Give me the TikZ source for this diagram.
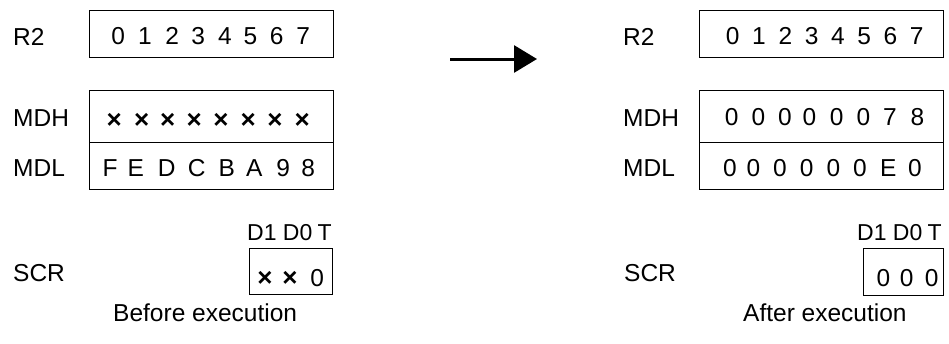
\documentclass[tikz,border=0pt]{standalone}
\usepackage{fontspec}
\setmainfont{Liberation Sans}
\usetikzlibrary{arrows.meta}
\begin{document}
\begin{tikzpicture}[x=1pt,y=-1pt,
  txt/.style={inner sep=0pt, font=\fontsize{24.5}{29}\selectfont},
  lbl/.style={txt, anchor=base west},
  ch/.style={txt, anchor=base},
  xch/.style={inner sep=0pt, anchor=center, font=\fontsize{26}{30}\selectfont\bfseries},
  bits/.style={inner sep=0pt, anchor=base east, font=\fontsize{23}{27}\selectfont},
  regline/.style={line width=1pt, draw=black},
  bigarrow/.style={line width=3pt, -{Triangle[length=23pt,width=27pt]}}]
\useasboundingbox (0,0) rectangle (949,343);

% ---------------- left: before ----------------
\node[lbl] (lR2)  at (13,45)    {R2};
\node[lbl] (lMDH) at (13,126.7) {MDH};
\node[lbl] (lMDL) at (13,176.7) {MDL};
\node[lbl] (lSCR) at (13,281.7) {SCR};
\node[lbl] (lcap) at (113,321.7) {Before execution};
\node[bits] (lbits) at (332,240) {D1 D0\hspace{-1pt} T};

\draw[regline] (89,10) rectangle (333,57);
\draw[regline] (89,90) rectangle (333,189);
\draw[regline] (89,142) -- (333,142);
\draw[regline] (249,248.5) rectangle (332,294.5);

\foreach \x/\c [count=\i] in {118.3/0,145/1,172.3/2,198.3/3,225/4,250.5/5,276.7/6,303.3/7}
  \node[ch] (lr2c\i) at (\x,44.3) {\c};
\foreach \x [count=\i] in {114.3,141.7,167.7,194.3,221,248.3,275,302.3}
  \node[xch] (lmdhc\i) at (\x,120.8) {×};
\foreach \x/\c [count=\i] in {110/F,135.7/E,166.7/D,196.7/C,226.7/B,254.3/A,283.3/9,308.3/8}
  \node[ch] (lmdlc\i) at (\x,176.5) {\c};
\node[xch] (lscr1) at (265,278.5) {×};
\node[xch] (lscr2) at (290,278.5) {×};
\node[ch]  (lscr3) at (317.3,286.7) {0};

% ---------------- arrow ----------------
\coordinate (as) at (450,59);
\coordinate (ae) at (537,59);
\draw[bigarrow] (as) -- (ae);

% ---------------- right: after ----------------
\node[lbl] (rR2)  at (623,45)    {R2};
\node[lbl] (rMDH) at (623,126.7) {MDH};
\node[lbl] (rMDL) at (623,176.7) {MDL};
\node[lbl] (rSCR) at (624,281.7) {SCR};
\node[lbl] (rcap) at (743,321.7) {After execution};
\node[bits] (rbits) at (942,240) {D1 D0\hspace{-1pt} T};

\draw[regline] (699,10) rectangle (943,57);
\draw[regline] (699,90) rectangle (943,189);
\draw[regline] (699,142) -- (943,142);
\draw[regline] (863,248.5) rectangle (943,295);

\foreach \x/\c [count=\i] in {732.7/0,759/1,785.3/2,811.6/3,837.9/4,864.2/5,890.5/6,916.7/7}
  \node[ch] (rr2c\i) at (\x,44.3) {\c};
\foreach \x/\c [count=\i] in {731.7/0,758.3/0,785/0,809.3/0,836.7/0,863.3/0,890/7,917.3/8}
  \node[ch] (rmdhc\i) at (\x,125) {\c};
\foreach \x/\c [count=\i] in {730/0,753.3/0,780/0,806.7/0,833.3/0,860/0,888.3/E,915/0}
  \node[ch] (rmdlc\i) at (\x,176) {\c};
\node[ch] (rscr1) at (883.3,286.7) {0};
\node[ch] (rscr2) at (906.7,286.7) {0};
\node[ch] (rscr3) at (931.7,286.7) {0};
\end{tikzpicture}
\end{document}
